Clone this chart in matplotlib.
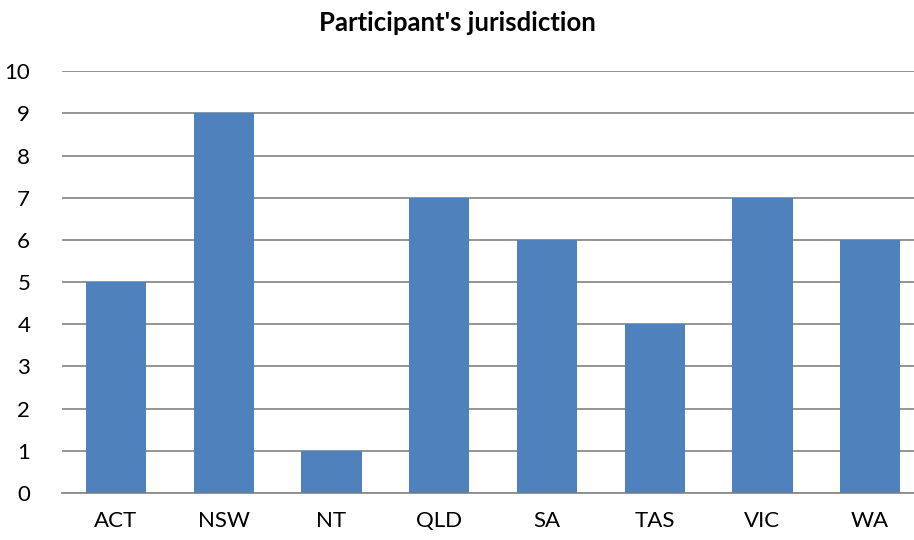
import matplotlib
matplotlib.use("Agg")
import matplotlib.pyplot as plt
import numpy as np

jurisdictions = ["ACT", "NSW", "NT", "QLD", "SA", "TAS", "VIC", "WA"]
participants = [5, 9, 1, 7, 6, 4, 7, 6]

plt.rcParams["font.family"] = ["Lato", "DejaVu Sans"]

fig = plt.figure(figsize=(9.14, 5.4), dpi=100)
ax = fig.add_axes([0.068, 0.087, 0.943, 0.781])

x = np.arange(len(jurisdictions))
ax.bar(x, participants, width=0.56, color="#4F81BD", zorder=3)

ax.set_xlim(-0.5, len(jurisdictions) - 0.5)
ax.set_ylim(0, 10)
ax.set_yticks(range(0, 11))
ax.set_xticks(x)
ax.set_xticklabels(jurisdictions)
ax.grid(axis="y", color="#8C8C8C", linewidth=1.3, zorder=0)
ax.tick_params(length=0, labelsize=16, colors="black")
ax.tick_params(axis="x", pad=13)
ax.tick_params(axis="y", pad=23)

for s in ["top", "right", "left"]:
    ax.spines[s].set_visible(False)
ax.spines["bottom"].set_color("#8C8C8C")
ax.spines["bottom"].set_linewidth(1.3)

fig.text(0.5, 0.957, "Participant's jurisdiction", ha="center", va="center",
         fontsize=18.5, fontweight="bold")

fig.savefig("out.png", dpi=100)
